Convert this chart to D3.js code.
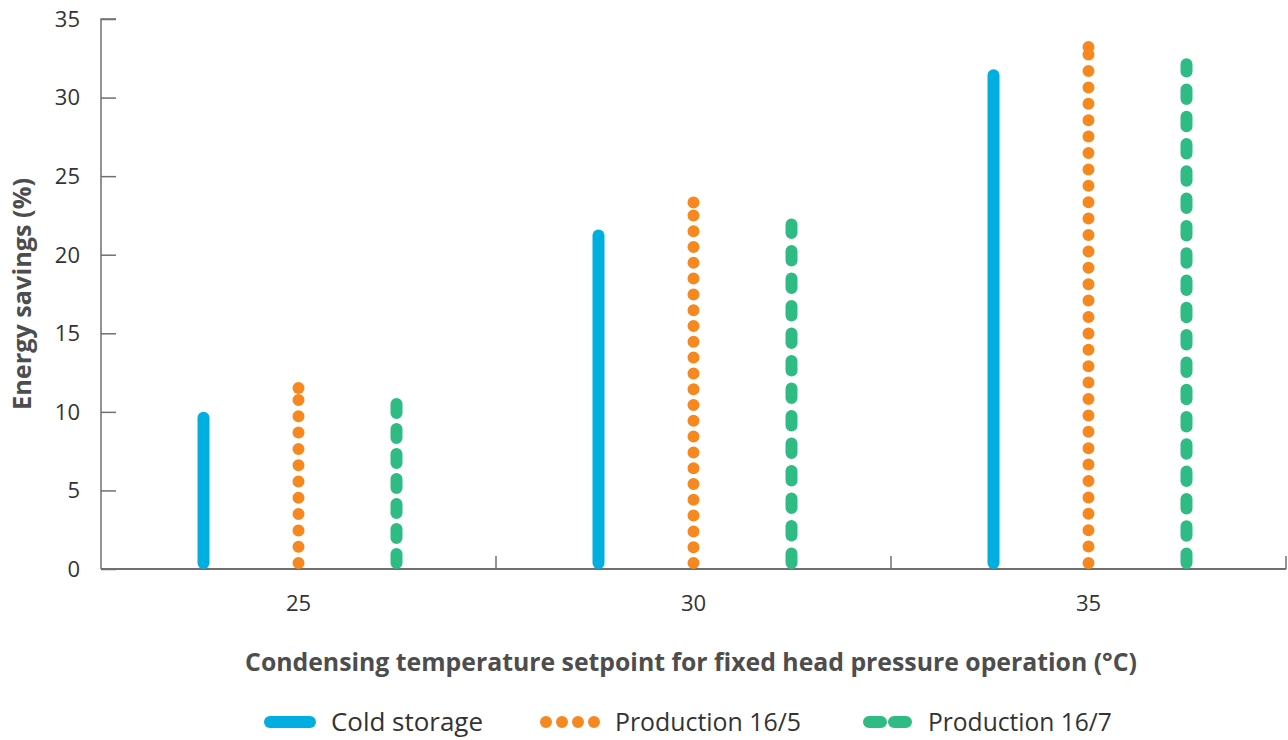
<!DOCTYPE html>
<html><head><meta charset="utf-8">
<script src="https://cdn.jsdelivr.net/npm/d3@7"></script>
<style>body{margin:0;background:#fff}svg{display:block}text{font-family:"Open Sans","Noto Sans",sans-serif}</style>
</head><body>
<svg id="c" width="1288" height="740"></svg>
<script>
const categories = ["25", "30", "35"];
const seriesNames = ["Cold storage", "Production 16/5", "Production 16/7"];
const coldStorage = [10.0, 21.6, 31.8];
const production165 = [11.9, 23.7, 33.6];
const production167 = [10.9, 22.3, 32.5];
const yTicks = [0, 5, 10, 15, 20, 25, 30, 35];
const xTitle = "Condensing temperature setpoint for fixed head pressure operation (°C)";
const yTitle = "Energy savings (%)";

const colors = ["#00aee0", "#f7871f", "#2fbc84"];
const W = 12, cap = W / 2;
const svg = d3.select("#c");
const m = {l: 101, r: 2, t: 19, b: 171};
const x = d3.scaleBand().domain(categories).range([m.l, 1288 - m.r]);
const y = d3.scaleLinear().domain([0, 35]).range([740 - m.b, m.t]);
const data = [coldStorage, production165, production167];

function fit(sel, target) {
  const n = sel.node();
  const s = +sel.attr("font-size");
  const w = n.getComputedTextLength();
  sel.attr("font-size", s * target / w);
}

// axes
const axCol = "#707070";
const gy = svg.append("g").attr("transform", `translate(${m.l},0)`)
  .call(d3.axisRight(y).tickValues(yTicks).tickSize(15).tickFormat(""));
gy.selectAll("path,line").attr("stroke", axCol).attr("stroke-width", 1.5);
gy.select(".domain").attr("d", `M15,${y(35)}H0V${y(0)}`);
svg.append("g").selectAll("text").data(yTicks).join("text")
  .attr("x", 80).attr("y", d => y(d)).attr("dy", "0.36em").attr("text-anchor", "end")
  .attr("font-size", 22).attr("fill", "#333").text(d => d);

const bounds = categories.map(c => x(c) + x.bandwidth());
const gx = svg.append("g");
gx.append("line").attr("x1", m.l).attr("x2", 1288 - m.r).attr("y1", y(0)).attr("y2", y(0))
  .attr("stroke", axCol).attr("stroke-width", 2);
gx.selectAll(".tk").data(bounds).join("line").attr("x1", d => d).attr("x2", d => d)
  .attr("y1", y(0)).attr("y2", y(0) - 13).attr("stroke", axCol).attr("stroke-width", 1.5);
gx.selectAll("text").data(categories).join("text")
  .attr("x", d => x(d) + x.bandwidth() / 2).attr("y", 603).attr("dy", "0.36em")
  .attr("text-anchor", "middle").attr("font-size", 22).attr("fill", "#333").text(d => d);

// bars
const offsets = [-95, 0, 98];
const dashes = [
  [null, null, null],
  ["0 16.3", "0 15.8", "0 16.4"],
  ["9 16", "9.5 18", "9.5 17.8"]
];
data.forEach((vals, si) => {
  const g = svg.append("g");
  vals.forEach((v, ci) => {
    const cx = x(categories[ci]) + x.bandwidth() / 2 + offsets[si];
    const y0 = y(0) - cap, y1 = y(v) + cap;
    g.append("path").attr("d", `M${cx},${y0}V${y1}`)
      .attr("stroke", colors[si]).attr("stroke-width", W).attr("stroke-linecap", "round")
      .attr("fill", "none").attr("stroke-dasharray", dashes[si][ci]);
    if (si === 1) g.append("circle").attr("cx", cx).attr("cy", y1).attr("r", cap).attr("fill", colors[si]);
  });
});

// titles
const xt = svg.append("text").attr("x", 691).attr("y", 662).attr("dy", "0.35em").attr("text-anchor", "middle")
  .attr("font-size", 20).attr("font-weight", 700).attr("fill", "#4d4d4d").text(xTitle);
fit(xt, 892);
const yt = svg.append("text").attr("transform", `translate(22,${294}) rotate(-90)`).attr("dy", "0.35em")
  .attr("text-anchor", "middle").attr("font-size", 20).attr("font-weight", 700).attr("fill", "#4d4d4d").text(yTitle);
fit(yt, 232);

// legend
const leg = [{x: 264, tx: 331, w: 152}, {x: 540, tx: 615, w: 186}, {x: 863, tx: 928, w: 184}];
seriesNames.forEach((n, i) => {
  const g = svg.append("g");
  const ly = 722;
  if (i === 0) g.append("path").attr("d", `M${leg[i].x + 6},${ly}H${leg[i].x + 46}`);
  if (i === 1) g.append("path").attr("d", `M${leg[i].x + 6},${ly}H${leg[i].x + 54.5}`).attr("stroke-dasharray", "0 16");
  if (i === 2) g.append("path").attr("d", `M${leg[i].x + 6},${ly}H${leg[i].x + 43}`).attr("stroke-dasharray", "12 13");
  g.select("path").attr("stroke", colors[i]).attr("stroke-width", W).attr("stroke-linecap", "round").attr("fill", "none");
  const t = g.append("text").attr("x", leg[i].tx).attr("y", ly).attr("dy", "0.35em").attr("font-size", 22)
    .attr("fill", "#333").text(n);
  fit(t, leg[i].w);
});
</script>
</body></html>
